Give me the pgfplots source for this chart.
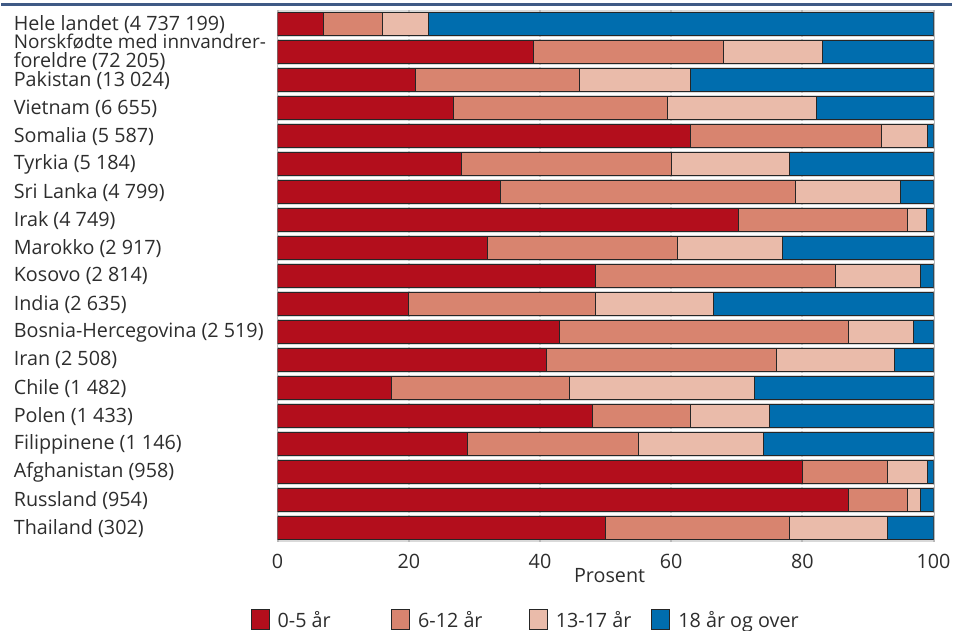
\documentclass[border=0pt]{standalone}
\usepackage{pgfplots}
\usepackage{pgfplotstable}
\pgfplotsset{compat=1.18}
\usepackage{fontspec}
\setmainfont{Open Sans}

\definecolor{rod}{RGB}{179,14,28}
\definecolor{laks}{RGB}{216,132,111}
\definecolor{rosa}{RGB}{234,187,170}
\definecolor{blaa}{RGB}{0,109,174}
\definecolor{toppblaa}{RGB}{63,90,133}
\definecolor{tekst}{RGB}{45,45,45}
\definecolor{bakgrunn}{RGB}{217,217,217}
\definecolor{rutenett}{RGB}{185,185,185}

% andel i prosent etter alder, en rad per gruppe (ovenfra og ned)
\pgfplotstableread{
row a b c d
0 7 9 7 77
1 39 29 15 17
2 21 25 17 37
3 26.8 32.7 22.6 17.9
4 63 29 7 1
5 28 32 18 22
6 34 45 16 5
7 70.3 25.7 2.9 1.1
8 32 29 16 23
9 48.5 36.5 13 2
10 20 28.5 18 33.5
11 43 44 10 3
12 41 35 18 6
13 17.3 27.2 28.2 27.3
14 48 15 12 25
15 29 26 19 26
16 80 13 6 1
17 87 9 2 2
18 50 28 15 7
}\andeler

\begin{document}
\begin{tikzpicture}
\begin{axis}[
  scale only axis,
  width=329pt, height=266.75pt,
  xbar stacked,
  bar width=0.82,
  y dir=reverse,
  xmin=0, xmax=100,
  ymin=-0.5, ymax=18.5,
  axis line style={draw=none},
  axis background/.style={fill=bakgrunn},
  major tick length=0pt,
  minor tick length=0pt,
  xtick={0,20,40,60,80,100},
  xmajorgrids,
  x grid style={rutenett, line width=1pt},
  ytick={0,...,18},
  minor ytick={0.5,1.5,...,17.5},
  yminorgrids,
  minor y grid style={white, line width=1pt},
  yticklabels={
    Hele landet (4 737 199),
    {\fontsize{9.5}{9.5}\selectfont Norskfødte med innvandrer-\\[-2.2pt]foreldre (72 205)},
    Pakistan (13 024),
    Vietnam (6 655),
    Somalia (5 587),
    Tyrkia (5 184),
    Sri Lanka (4 799),
    Irak (4 749),
    Marokko (2 917),
    Kosovo (2 814),
    India (2 635),
    Bosnia-Hercegovina (2 519),
    Iran (2 508),
    Chile (1 482),
    Polen (1 433),
    Filippinene (1 146),
    Afghanistan (958),
    Russland (954),
    Thailand (302)
  },
  tick label style={font=\fontsize{9.9}{11.5}\selectfont, text=tekst},
  yticklabel style={anchor=west, align=left, inner sep=0pt, xshift=-132.5pt},
  xticklabel style={anchor=north, inner sep=0pt, yshift=-6pt},
  /pgf/number format/assume math mode=true,
  xlabel={Prosent},
  xlabel style={font=\fontsize{9.9}{11.5}\selectfont, text=tekst, at={(axis description cs:0.5,0)}, anchor=north, inner sep=0pt, yshift=-13pt, xshift=2pt},
  legend columns=4,
  legend cell align=left,
  legend style={draw=none, fill=none, inner sep=0pt, outer sep=0pt,
    column sep=0pt, row sep=0pt,
    nodes={inner sep=0pt, outer sep=0pt, font=\fontsize{9.9}{11.5}\selectfont, text=tekst},
    at={(axis description cs:0,0)}, anchor=west, xshift=-13.5pt, yshift=-39pt},
  legend image code/.code={\draw[#1] (0pt,-4.3pt) rectangle (9pt,5.7pt); \path (13pt,0pt);},
  every axis plot/.append style={draw=black!85, line width=0.5pt},
]
\addplot[fill=rod] table[x=a, y=row] {\andeler};
\addlegendentry{\makebox[57pt][l]{0-5 år}}
\addplot[fill=laks] table[x=b, y=row] {\andeler};
\addlegendentry{\makebox[55.5pt][l]{6-12 år}}
\addplot[fill=rosa] table[x=c, y=row] {\andeler};
\addlegendentry{\makebox[48pt][l]{13-17 år}}
\addplot[fill=blaa] table[x=d, y=row] {\andeler};
\addlegendentry{18 år og over}
\end{axis}
\draw[toppblaa, line width=1.5pt]
  ([xshift=-138.5pt, yshift=3pt]current axis.north west)
  -- ([xshift=9pt, yshift=3pt]current axis.north east);
\path ([xshift=-138.5pt, yshift=5.25pt]current axis.north west)
  rectangle ([xshift=9pt, yshift=-43.5pt]current axis.south east);
\end{tikzpicture}
\end{document}
